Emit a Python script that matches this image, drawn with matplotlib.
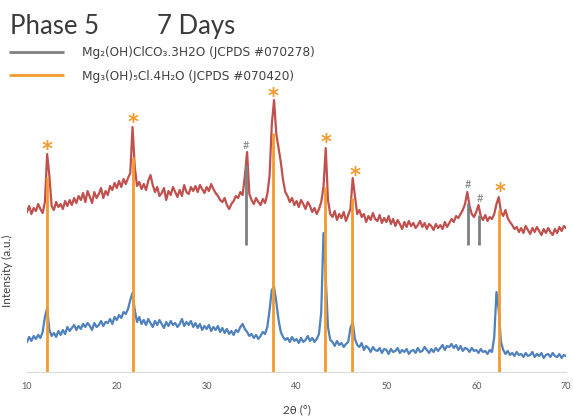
import numpy as np
import matplotlib
matplotlib.use("Agg")
import matplotlib.pyplot as plt

plt.rcParams['font.family'] = ['Lato', 'DejaVu Sans']

# 2theta grid, 0.25 deg steps from 10 to 70
two_theta = np.arange(10, 70.01, 0.25)

# 7 days sample (upper trace, red)
red = [
    160, 166, 158, 164,  161, 168, 163, 159,  170, 218, 196, 166,
    162, 170, 165, 168,  163, 171, 166, 172,  167, 174, 169, 176,
    172, 179, 170, 181,  175, 169, 180, 174,  178, 184, 174, 181,
    177, 186, 182, 189,  184, 191, 185, 193,  188, 194, 199, 245,
    205, 186, 190, 183,  188, 182, 191, 197,  187, 180, 185, 176,
    179, 184, 172, 181,  177, 185, 180, 175,  182, 176, 187, 180,
    178, 185, 181, 186,  180, 187, 183, 179,  185, 181, 188, 183,
    179, 176, 172, 170,  174, 167, 163, 168,  171, 176, 174, 180,
    177, 196, 220, 178,  172, 168, 174, 170,  167, 173, 169, 178,
    196, 248, 272, 238,  224, 210, 192, 180,  176, 170, 174, 167,
    171, 165, 172, 168,  163, 170, 166, 160,  164, 158, 163, 170,
    185, 224, 172, 158,  155, 161, 152, 158,  154, 160, 151, 157,
    163, 194, 176, 158,  162, 155, 158, 150,  156, 152, 159, 153,
    151, 157, 149, 154,  150, 156, 148, 153,  146, 152, 148, 143,
    150, 145, 151, 146,  149, 144, 147, 151,  145, 149, 143, 148,
    146, 142, 148, 144,  147, 143, 150, 145,  149, 153, 150, 156,
    154, 158, 162, 168,  180, 166, 158, 155,  160, 167, 156, 152,
    157, 151, 155, 153,  158, 168, 175, 160,  156, 162, 154, 150,
    147, 143, 145, 140,  144, 139, 146, 142,  138, 144, 140, 145,
    141, 137, 143, 139,  144, 140, 137, 143,  139, 145, 141, 146,
    144,
]

# lower trace, blue
blue = [
    30, 35, 31, 36,  33, 37, 34, 40,  55, 64, 42, 36,
    39, 35, 41, 37,  42, 38, 45, 41,  44, 47, 42, 46,
    43, 48, 45, 49,  46, 42, 49, 45,  47, 51, 46, 50,
    49, 53, 48, 55,  52, 57, 54, 60,  58, 63, 72, 79,
    62, 50, 55, 48,  52, 47, 53, 49,  45, 51, 47, 52,
    48, 44, 50, 46,  51, 47, 49, 45,  48, 53, 46, 50,
    47, 51, 45, 49,  44, 48, 42, 46,  43, 47, 41, 45,
    42, 46, 40, 44,  39, 43, 38, 41,  37, 42, 40, 45,
    48, 43, 40, 36,  38, 34, 37, 33,  36, 40, 38, 45,
    62, 82, 85, 70,  52, 40, 35, 32,  34, 30, 35, 31,
    33, 29, 34, 30,  32, 36, 31, 34,  30, 33, 38, 60,
    139, 95, 45, 32,  30, 26, 31, 27,  29, 25, 28, 30,
    44, 50, 33, 27,  25, 29, 22, 26,  24, 20, 25, 22,
    21, 24, 19, 23,  22, 18, 23, 20,  21, 24, 19, 22,
    20, 23, 18, 21,  22, 19, 24, 20,  21, 25, 22, 19,
    23, 20, 24, 21,  24, 27, 22, 26,  25, 28, 24, 27,
    22, 26, 21, 24,  23, 20, 24, 21,  22, 19, 23, 20,
    21, 18, 22, 20,  35, 80, 62, 30,  22, 18, 21, 17,
    19, 16, 20, 17,  18, 15, 19, 16,  17, 20, 15, 18,
    16, 19, 14, 17,  18, 15, 19, 16,  15, 18, 14, 17,
    16,
]

# reference sticks
orange_pos = [12.2, 21.8, 37.4, 43.2, 46.2, 62.5]
orange_top = [195, 215, 239, 185, 174, 162]
gray_pos = [34.4, 59.1, 60.3]
gray_top = [207, 169, 157]
gray_base = 127

# peak markers
star_pos = [12.2, 21.8, 37.4, 43.3, 46.5, 62.6]
star_y = [222, 249, 275, 229, 196, 180]
hash_pos = [34.4, 59.1, 60.4]
hash_y = [227, 188, 174]

c_red = '#C0504D'
c_blue = '#4F81BD'
c_orange = '#F39A2E'
c_gray = '#7F7F7F'

fig = plt.figure(figsize=(5.73, 4.17), dpi=100)
ax = fig.add_axes([0.047, 0.108, 0.941, 0.712])

ax.plot(two_theta, red, color=c_red, lw=1.6)
ax.plot(two_theta, blue, color=c_blue, lw=1.6)

ax.vlines(gray_pos, gray_base, gray_top, color=c_gray, lw=2,
          label='Mg\u2082(OH)ClCO\u2083.3H2O (JCPDS #070278)')
ax.vlines(orange_pos, 0, orange_top, color=c_orange, lw=2,
          label='Mg\u2083(OH)\u2085Cl.4H\u2082O (JCPDS #070420)')

for x, y in zip(star_pos, star_y):
    ax.text(x, y, '*', color=c_orange, fontsize=15, fontweight='bold',
            ha='center', va='center', family=['DejaVu Sans'])
for x, y in zip(hash_pos, hash_y):
    ax.text(x, y, '#', color=c_gray, fontsize=8, ha='center', va='center')

ax.set_xlim(10, 70)
ax.set_ylim(0, 297)
ax.set_xticks(range(10, 71, 10))
ax.set_yticks([])
for s in ['top', 'right', 'left']:
    ax.spines[s].set_visible(False)
ax.spines['bottom'].set_color('#D9D9D9')
ax.tick_params(axis='x', length=0, labelsize=6.5, labelcolor='#595959', pad=7)

ax.set_xlabel('2\u03b8 (\u00b0)', fontsize=8.5, color='#404040', labelpad=10)
ax.set_ylabel('Intensity (a.u.)', fontsize=8.5, color='#404040')
ax.yaxis.set_label_coords(-0.025, 0.34)

fig.text(0.017, 0.937, 'Phase 5', fontsize=18.5, color='#3a3a3a', va='center')
fig.text(0.274, 0.937, '7 Days', fontsize=18.5, color='#3a3a3a', va='center')

ax.legend(loc='upper left', bbox_to_anchor=(-0.004, 0.915), bbox_transform=fig.transFigure,
          frameon=False, prop={'family': 'DejaVu Sans', 'size': 8.7},
          handlelength=4.6, handletextpad=1.5, labelspacing=0.85,
          labelcolor='#404040')

fig.savefig('out.png', dpi=100)
